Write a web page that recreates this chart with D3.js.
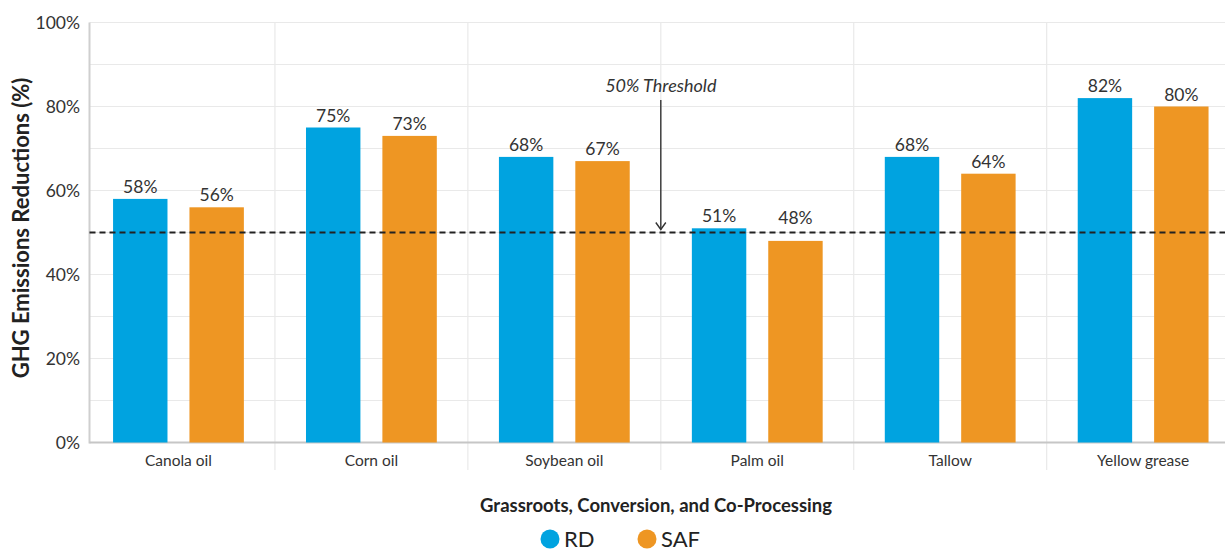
<!DOCTYPE html>
<html>
<head>
<meta charset="utf-8">
<script src="https://cdn.jsdelivr.net/npm/d3@7"></script>
<style>
  html, body { margin: 0; padding: 0; background: #fff; }
  svg { display: block; font-family: Lato, "Open Sans", sans-serif; }
</style>
</head>
<body>
<svg id="chart" width="1225" height="550"></svg>
<script>
// ---- data ----
const categories = ["Canola oil", "Corn oil", "Soybean oil", "Palm oil", "Tallow", "Yellow grease"];
const seriesNames = ["RD", "SAF"];
const rdValues  = [58, 75, 68, 51, 68, 82];
const safValues = [56, 73, 67, 48, 64, 80];
const yTicks = [0, 20, 40, 60, 80, 100];
const yGrid = [0, 10, 20, 30, 40, 50, 60, 70, 80, 90, 100];
const threshold = 50;
const thresholdLabel = "50% Threshold";
const yTitle = "GHG Emissions Reductions (%)";
const xTitle = "Grassroots, Conversion, and Co-Processing";
const colors = { RD: "#00a3e0", SAF: "#ee9623" };

const rows = categories.map((c, i) => ({ category: c, RD: rdValues[i], SAF: safValues[i] }));

// ---- layout ----
const svg = d3.select("#chart");
const W = 1225;
const axisX = 89.5;
const plotTop = 22.5, plotBottom = 442.5;

const x = d3.scaleBand().domain(categories).range([82, 1239.6]).paddingInner(0).paddingOuter(0);
const x1 = d3.scaleBand().domain(seriesNames).range([0, x.bandwidth()]).paddingInner(0.2876).paddingOuter(0.4066);
const y = d3.scaleLinear().domain([0, 100]).range([plotBottom, plotTop]);

// horizontal gridlines
svg.append("g").selectAll("line").data(yGrid.filter(d => d > 0)).join("line")
  .attr("x1", axisX).attr("x2", W)
  .attr("y1", d => y(d)).attr("y2", d => y(d))
  .attr("stroke", "#e9e9e9").attr("stroke-width", 1.2);

// vertical separators between categories
svg.append("g").selectAll("line").data(categories.slice(1)).join("line")
  .attr("x1", d => x(d)).attr("x2", d => x(d))
  .attr("y1", plotTop).attr("y2", 470)
  .attr("stroke", "#e9e9e9").attr("stroke-width", 1.2);

// axes lines
svg.append("line").attr("x1", axisX).attr("x2", axisX).attr("y1", plotTop).attr("y2", plotBottom + 1)
  .attr("stroke", "#cfcfcf").attr("stroke-width", 2);
svg.append("line").attr("x1", axisX).attr("x2", W).attr("y1", plotBottom).attr("y2", plotBottom)
  .attr("stroke", "#c6c6c6").attr("stroke-width", 2);

// y tick labels via d3 axis
const yAxis = d3.axisLeft(y).tickValues(yTicks).tickFormat(d => d + "%").tickSize(0).tickPadding(0);
const gy = svg.append("g").attr("transform", `translate(80,0)`).call(yAxis);
gy.select(".domain").remove();
gy.selectAll("text").attr("fill", "#333").style("font-size", "17.5px").style("font-family", "Lato, 'Open Sans', sans-serif");

// x category labels via d3 axis
const xAxis = d3.axisBottom(x).tickSize(0).tickPadding(0);
const gx = svg.append("g").attr("transform", `translate(0,455)`).call(xAxis);
gx.select(".domain").remove();
gx.selectAll("text").attr("fill", "#333").style("font-size", "15.5px").style("font-family", "Lato, 'Open Sans', sans-serif");

// bars
const groups = svg.append("g").selectAll("g").data(rows).join("g")
  .attr("transform", d => `translate(${x(d.category)},0)`);
groups.selectAll("rect").data(d => seriesNames.map(k => ({ key: k, value: d[k] }))).join("rect")
  .attr("x", d => x1(d.key)).attr("width", x1.bandwidth())
  .attr("y", d => y(d.value)).attr("height", d => y(0) - y(d.value))
  .attr("fill", d => colors[d.key]);
groups.selectAll("text").data(d => seriesNames.map(k => ({ key: k, value: d[k] }))).join("text")
  .attr("x", d => x1(d.key) + x1.bandwidth() / 2)
  .attr("y", d => Math.min(y(d.value) - 6, y(threshold) - 9))
  .attr("text-anchor", "middle")
  .attr("fill", "#333").style("font-size", "17.5px")
  .text(d => d.value + "%");

// threshold dashed line
svg.append("line").attr("x1", axisX).attr("x2", W)
  .attr("y1", y(threshold)).attr("y2", y(threshold))
  .attr("stroke", "#222").attr("stroke-width", 1.8).attr("stroke-dasharray", "6,4");

// threshold annotation
const ax = x("Palm oil");
svg.append("text").attr("x", ax).attr("y", 92).attr("text-anchor", "middle")
  .attr("fill", "#333").style("font-style", "italic").style("font-size", "18px")
  .text(thresholdLabel);
svg.append("line").attr("x1", ax).attr("x2", ax).attr("y1", 100).attr("y2", y(threshold) - 3)
  .attr("stroke", "#333").attr("stroke-width", 1.4);
svg.append("path")
  .attr("d", `M${ax - 5},${y(threshold) - 10} L${ax},${y(threshold) - 3} L${ax + 5},${y(threshold) - 10}`)
  .attr("fill", "none").attr("stroke", "#333").attr("stroke-width", 1.4);

// y title
svg.append("text")
  .attr("transform", `translate(29,228) rotate(-90)`)
  .attr("text-anchor", "middle").attr("fill", "#222")
  .style("font-weight", "bold").style("font-size", "22px")
  .text(yTitle);

// x title
svg.append("text").attr("x", 656).attr("y", 512).attr("text-anchor", "middle")
  .attr("fill", "#222").style("font-weight", "bold").style("font-size", "18.5px")
  .text(xTitle);

// legend
const legend = svg.append("g");
const legendItems = [{ key: "RD", cx: 550, tx: 564 }, { key: "SAF", cx: 647, tx: 661 }];
legendItems.forEach(it => {
  legend.append("circle").attr("cx", it.cx).attr("cy", 539).attr("r", 9.5).attr("fill", colors[it.key]);
  legend.append("text").attr("x", it.tx).attr("y", 546.5).attr("fill", "#222")
    .style("font-size", "22px").text(it.key);
});
</script>
</body>
</html>
